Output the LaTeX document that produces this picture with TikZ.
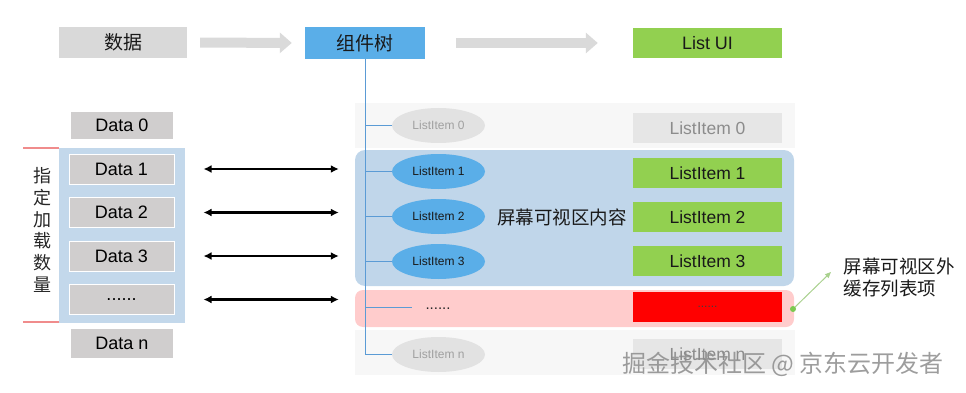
\documentclass[tikz,border=0pt]{standalone}
\usepackage{fontspec}
\setmainfont{Liberation Sans}
\newfontfamily\cjk{Noto Sans CJK SC}
\usetikzlibrary{arrows.meta,calc,shapes.geometric}
\definecolor{boxgray}{HTML}{D9D9D9}
\definecolor{datagray}{HTML}{D0CECE}
\definecolor{nodeblue}{HTML}{5AAEE8}
\definecolor{uigreen}{HTML}{92D050}
\definecolor{leftblue}{HTML}{C3D8EB}
\definecolor{regionblue}{HTML}{C0D6EA}
\definecolor{regionpink}{HTML}{FFCCCC}
\definecolor{faintrow}{HTML}{F7F7F7}
\definecolor{ellgray}{HTML}{E2E2E2}
\definecolor{ellgraytext}{HTML}{A0A0A0}
\definecolor{itemgray}{HTML}{E6E6E6}
\definecolor{itemgraytext}{HTML}{8C8C8C}
\definecolor{treeline}{HTML}{5B9BD5}
\definecolor{sidered}{HTML}{F08C8C}
\definecolor{arrowgray}{HTML}{DADADA}
\definecolor{notegreen}{HTML}{A9D18E}
\definecolor{dotgreen}{HTML}{7CC850}
\begin{document}
\begin{tikzpicture}[x=1pt,y=-1pt,
  topbox/.style={rectangle,inner sep=0pt,minimum height=31pt,text=black!90},
  databox/.style={rectangle,inner sep=0pt,fill=datagray,draw=white,line width=1pt,
    minimum width=105pt,minimum height=30pt,font=\fontsize{18}{20}\selectfont},
  ell/.style={ellipse,inner sep=0pt,minimum width=93pt,minimum height=35pt,
    font=\fontsize{12}{14}\selectfont},
  ellblue/.style={ell,fill=nodeblue,text=black!90},
  ellgrey/.style={ell,fill=ellgray,text=ellgraytext},
  itembox/.style={rectangle,inner sep=0pt,minimum width=149pt,minimum height=30pt,
    font=\fontsize{17.5}{20}\selectfont},
  itemgreen/.style={itembox,fill=uigreen,text=black!90},
  itemgrey/.style={itembox,fill=itemgray,text=itemgraytext},
  blockarrow/.style={line width=10pt,draw=arrowgray,
    -{Triangle[length=12pt 0 0,width=20pt 0 0]}},
  dblarrow/.style={line width=2.2pt,draw=black,
    {Latex[length=8pt 0 0,width=8pt 0 0]}-{Latex[length=8pt 0 0,width=8pt 0 0]}},
  branch/.style={draw=treeline,line width=1pt}
]
\useasboundingbox (0,0) rectangle (966,393);

% ---- top row ----
\node[topbox,fill=boxgray,minimum width=128pt,font=\cjk\fontsize{19}{21}\selectfont] (data) at (123,42.5) {数据};
\node[topbox,fill=nodeblue,minimum width=120pt,minimum height=32pt,font=\cjk\fontsize{19}{21}\selectfont] (tree) at (365,43) {组件树};
\node[topbox,fill=uigreen,minimum width=149pt,minimum height=30pt,font=\fontsize{18}{20}\selectfont] (ui) at (707.5,43) {List UI};
\draw[blockarrow,shorten <=13pt,shorten >=13pt] (data.east) -- (tree.west);
\draw[blockarrow,shorten <=31pt,shorten >=35pt] (tree.east) -- (ui.west);

% ---- left column ----
\fill[leftblue] (59,148) rectangle (185,323);
\draw[sidered,line width=1.2pt] (23,148) -- (59,148);
\draw[sidered,line width=1.2pt] (23,322) -- (59,322);
\node[align=center,font=\cjk\fontsize{18}{21.7}\selectfont,text=black!85] (count) at (42,230) {指\\定\\加\\载\\数\\量};
\node[databox,minimum width=102pt,minimum height=27pt,draw=none] (d0) at (122,125.5) {Data 0};
\node[databox] (d1) at (121.5,169) {Data 1};
\node[databox] (d2) at (121.5,212.5) {Data 2};
\node[databox] (d3) at (121.5,256) {Data 3};
\node[databox] (dd) at (121.5,299.5) {......};
\node[databox,minimum width=102pt,minimum height=29pt,draw=none] (dn) at (122,343.5) {Data n};

% ---- right region backgrounds ----
\fill[faintrow] (355,103) rectangle (795,148);
\fill[regionblue,rounded corners=10pt] (355,150) rectangle (794,286);
\fill[regionpink,rounded corners=8pt] (355,290) rectangle (794,327);
\fill[faintrow] (355,330) rectangle (795,375);

% ---- tree ellipses ----
\node[ellgrey] (e0) at (438.5,125.5) {ListItem 0};
\node[ellblue] (e1) at (438.5,171.5) {ListItem 1};
\node[ellblue] (e2) at (438.5,216.5) {ListItem 2};
\node[ellblue] (e3) at (438.5,261.5) {ListItem 3};
\node[ellgrey] (en) at (438.5,354.5) {ListItem n};
\coordinate (edots) at (412,307);
\node[font=\fontsize{15}{17}\selectfont,text=black!85] (tdots) at (438,309) {......};

\draw[branch] (tree.south) |- (en.west);
\draw[branch] (tree.south |- e0.west) -- (e0.west);
\draw[branch] (tree.south |- e1.west) -- (e1.west);
\draw[branch] (tree.south |- e2.west) -- (e2.west);
\draw[branch] (tree.south |- e3.west) -- (e3.west);
\draw[branch] (tree.south |- edots) -- (edots);

\node[font=\cjk\fontsize{18.5}{21}\selectfont,text=black!90] (vis) at (562,217) {屏幕可视区内容};

% ---- list UI items ----
\node[itemgrey] (r0) at (707.5,128) {ListItem 0};
\node[itemgreen] (r1) at (707.5,173) {ListItem 1};
\node[itemgreen] (r2) at (707.5,217) {ListItem 2};
\node[itemgreen] (r3) at (707.5,261) {ListItem 3};
\node[itembox,fill=red,text=black!75,font=\fontsize{12}{14}\selectfont] (rr) at (707.5,307) {......};
\node[itemgrey] (rn) at (707.5,354) {ListItem n};

% ---- double arrows ----
\draw[dblarrow,shorten <=29pt,shorten >=53pt] (d1.east) -- (d1.east -| e1.west);
\draw[dblarrow,shorten <=29pt,shorten >=53pt] (d2.east) -- (d2.east -| e2.west);
\draw[dblarrow,shorten <=29pt,shorten >=53pt] (d3.east) -- (d3.east -| e3.west);
\draw[dblarrow,shorten <=29pt,shorten >=53pt] (dd.east) -- (dd.east -| e3.west);

% ---- note ----
\node[anchor=west,align=left,font=\cjk\fontsize{18.5}{22}\selectfont,text=black!90] (note) at (840,278) {屏幕可视区外\\缓存列表项};
\coordinate (ndot) at (793,309);
\coordinate (ntip) at (831,272);
\draw[notegreen,line width=1pt,-{Triangle[length=6pt 0 0,width=5pt 0 0]}] (ndot) -- (ntip);
\fill[dotgreen] (ndot) circle (3pt);

% ---- watermark ----
\node[font=\cjk\fontsize{24}{26}\selectfont,text=black!45,opacity=0.85] (wm) at (783,364) {掘金技术社区 @ 京东云开发者};
\end{tikzpicture}
\end{document}
